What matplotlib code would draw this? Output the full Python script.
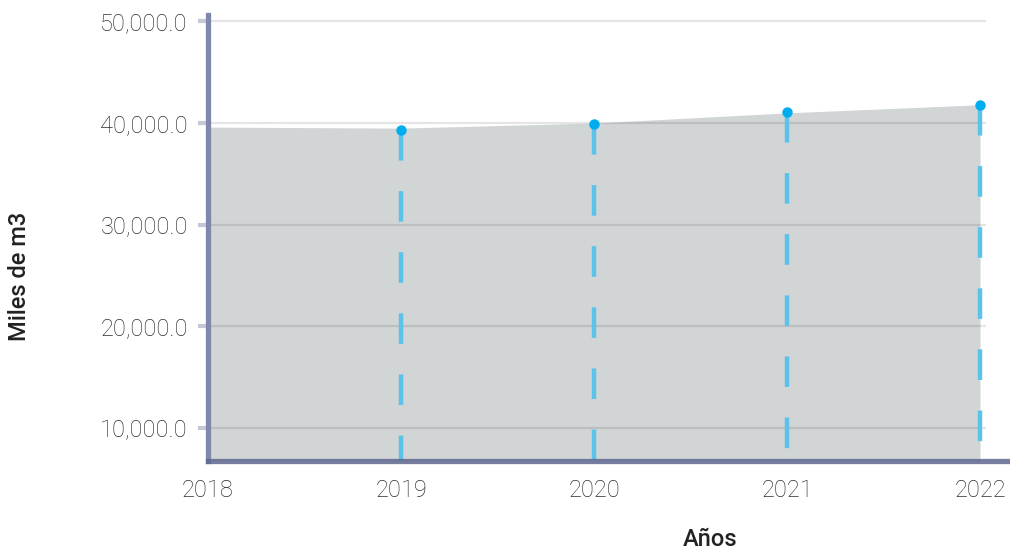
import matplotlib
matplotlib.use('Agg')
import matplotlib.pyplot as plt
from matplotlib.ticker import FuncFormatter

plt.rcParams['font.family'] = ['Roboto', 'DejaVu Sans']
plt.rcParams['lines.scale_dashes'] = False

# data
years = [2018, 2019, 2020, 2021, 2022]
area_vals = [39600, 39500, 40000, 41000, 41800]
point_years = [2019, 2020, 2021, 2022]
point_vals = [39300, 39950, 41050, 41800]
yticks = [10000, 20000, 30000, 40000, 50000]

ymin, ymax = 6700, 50650

fig = plt.figure(figsize=(10.10, 5.51), dpi=100)
ax = fig.add_axes([0.206, 0.163, 0.793, 0.810])

ax.fill_between(years, area_vals, ymin, color='#d1d5d6', lw=0, zorder=1)

# gridlines (semi-transparent so they darken over the area)
for v in yticks:
    ax.plot([2018, 2022.03], [v, v], color='black', alpha=0.1, lw=1.6, zorder=2,
            solid_capstyle='butt')

# dashed drop lines from each point
for x, v in zip(point_years, point_vals):
    ax.plot([x, x], [v, ymin], color='#5bc3ea', lw=3.2, ls=(0, (22, 22)),
            solid_capstyle='butt', dash_capstyle='butt', zorder=3)
ax.plot(point_years, point_vals, 'o', color='#00adef', ms=7.5, zorder=4, mec='none')

ax.set_xlim(2018, 2022.15)
ax.set_ylim(ymin, ymax)
ax.set_xticks(years)
ax.set_yticks(yticks)
ax.yaxis.set_major_formatter(FuncFormatter(lambda v, p: '{:,.1f}'.format(v)))

ax.tick_params(axis='y', direction='out', length=7.5, width=3, color='#c3c7d8',
               pad=7, labelcolor='#2e2e2e')
ax.tick_params(axis='x', length=0, pad=13, labelcolor='#2e2e2e')
for lab in ax.get_xticklabels() + ax.get_yticklabels():
    lab.set_fontsize(17)
    lab.set_fontweight('light')

for s in ['top', 'right']:
    ax.spines[s].set_visible(False)
ax.spines['left'].set_color('#7f88ac')
ax.spines['left'].set_linewidth(3.8)
ax.spines['bottom'].set_color('#5f6890')
ax.spines['bottom'].set_alpha(0.85)
ax.spines['bottom'].set_linewidth(3.8)
ax.spines['left'].set_zorder(5)
ax.spines['bottom'].set_zorder(5)

ax.set_xlabel('Años', fontsize=17, fontweight='medium', color='#222222')
ax.xaxis.set_label_coords(0.627, -0.15)
ax.set_ylabel('Miles de m3', fontsize=17, fontweight='medium', color='#222222')
ax.yaxis.set_label_coords(-0.221, 0.413)

fig.savefig('out.png', dpi=100)
